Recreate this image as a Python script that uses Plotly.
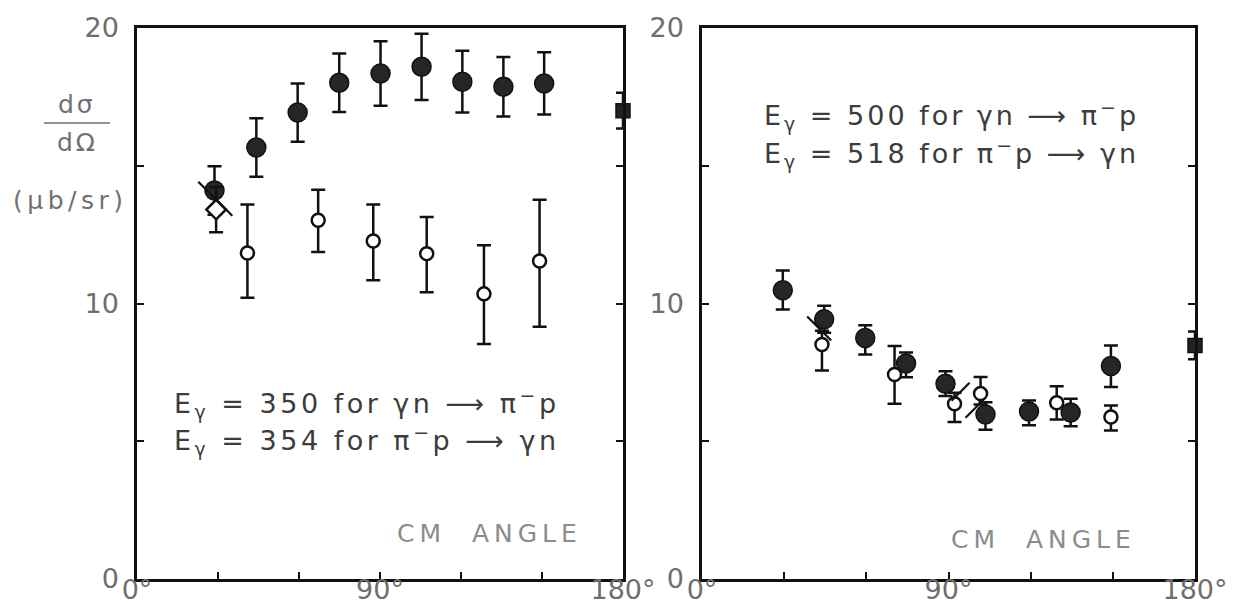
import plotly.graph_objects as go

W, H = 1242, 603

# ---- left panel: E_gamma = 350 (gamma n -> pi- p) and 354 (pi- p -> gamma n) ----
l_gn_ang = [28.7, 44.2, 59.5, 74.9, 90.2, 105.4, 120.5, 135.7, 150.8]
l_gn_val = [14.1, 15.66, 16.93, 18.01, 18.35, 18.59, 18.05, 17.87, 17.99]
l_gn_err = [0.88, 1.06, 1.06, 1.06, 1.17, 1.2, 1.12, 1.08, 1.13]

l_pg_ang = [40.9, 67.1, 87.5, 107.3, 128.5, 149.1]
l_pg_val = [11.83, 13.02, 12.27, 11.81, 10.35, 11.54]
l_pg_errp = [1.76, 1.11, 1.32, 1.33, 1.76, 2.23]
l_pg_errm = [1.62, 1.15, 1.43, 1.40, 1.82, 2.38]

l_dia_ang = [29.3]
l_dia_val = [13.41]
l_dia_err = [0.82]

l_sq_ang = [180.0]
l_sq_val = [17.0]
l_sq_err = [0.65]

l_diag_ang = [29.0]
l_diag_val = [13.8]

# ---- right panel: E_gamma = 500 (gamma n -> pi- p) and 518 (pi- p -> gamma n) ----
r_gn_ang = [29.5, 44.6, 59.6, 74.5, 88.9, 103.5, 119.4, 134.6, 149.3]
r_gn_val = [10.48, 9.43, 8.75, 7.82, 7.09, 5.97, 6.08, 6.04, 7.73]
r_gn_errp = [0.72, 0.49, 0.46, 0.40, 0.45, 0.45, 0.40, 0.50, 0.75]
r_gn_errm = [0.70, 0.49, 0.60, 0.50, 0.45, 0.55, 0.50, 0.50, 0.76]

r_pg_ang = [43.8, 70.3, 92.2, 101.7, 129.5, 149.3]
r_pg_val = [8.51, 7.42, 6.36, 6.73, 6.40, 5.88]
r_pg_errp = [0.50, 1.04, 0.40, 0.60, 0.60, 0.42]
r_pg_errm = [0.94, 1.06, 0.66, 0.40, 0.61, 0.49]

r_sq_ang = [180.0]
r_sq_val = [8.48]
r_sq_err = [0.5]

r_diag_ang_nw = [42.8]
r_diag_val_nw = [9.09]
r_diag_ang_ne = [94.4, 99.5]
r_diag_val_ne = [6.8, 6.18]

x_tickvals = [0, 90, 180]
x_ticktext = ["0°", "90°", "180°"]
y_tickvals = [0, 10, 20]
y_ticktext = ["0", "10", "20"]


def fx(p):
    return p / W


def fy(p):
    return 1 - p / H


INK = "#111111"
BAR = dict(type="data", color=INK, thickness=2.5, width=7)


def err(plus, minus=None):
    d = dict(BAR, array=plus, visible=True)
    if minus is not None:
        d["arrayminus"] = minus
        d["symmetric"] = False
    return d


filled = dict(symbol="circle", size=19, color="#262626", line=dict(color=INK, width=1.5))
hollow = dict(symbol="circle", size=13, color="white", line=dict(color=INK, width=2.5))
diamond = dict(symbol="diamond", size=15, color="white", line=dict(color=INK, width=2.5))
square = dict(symbol="square", size=14, color="#222222", line=dict(color=INK, width=1.5))

fig = go.Figure()

# left panel traces
fig.add_trace(go.Scatter(x=l_gn_ang, y=l_gn_val, mode="markers", marker=filled,
                         error_y=err(l_gn_err), xaxis="x", yaxis="y"))
fig.add_trace(go.Scatter(x=l_pg_ang, y=l_pg_val, mode="markers", marker=hollow,
                         error_y=err(l_pg_errp, l_pg_errm), xaxis="x", yaxis="y"))
fig.add_trace(go.Scatter(x=l_dia_ang, y=l_dia_val, mode="markers", marker=diamond,
                         error_y=err(l_dia_err), xaxis="x", yaxis="y"))
fig.add_trace(go.Scatter(x=l_sq_ang, y=l_sq_val, mode="markers", marker=square,
                         error_y=err(l_sq_err), xaxis="x", yaxis="y", cliponaxis=False))
fig.add_trace(go.Scatter(x=l_diag_ang, y=l_diag_val, mode="markers",
                         marker=dict(symbol="line-nw", size=34, line=dict(color=INK, width=2.2)),
                         xaxis="x", yaxis="y"))

# right panel traces
fig.add_trace(go.Scatter(x=r_gn_ang, y=r_gn_val, mode="markers", marker=filled,
                         error_y=err(r_gn_errp, r_gn_errm), xaxis="x2", yaxis="y2"))
fig.add_trace(go.Scatter(x=r_pg_ang, y=r_pg_val, mode="markers", marker=hollow,
                         error_y=err(r_pg_errp, r_pg_errm), xaxis="x2", yaxis="y2"))
fig.add_trace(go.Scatter(x=r_sq_ang, y=r_sq_val, mode="markers", marker=square,
                         error_y=err(r_sq_err), xaxis="x2", yaxis="y2", cliponaxis=False))
fig.add_trace(go.Scatter(x=r_diag_ang_nw, y=r_diag_val_nw, mode="markers",
                         marker=dict(symbol="line-nw", size=24, line=dict(color=INK, width=2.2)),
                         xaxis="x2", yaxis="y2"))
fig.add_trace(go.Scatter(x=r_diag_ang_ne, y=r_diag_val_ne, mode="markers",
                         marker=dict(symbol="line-ne", size=18, line=dict(color=INK, width=2.2)),
                         xaxis="x2", yaxis="y2"))

TICKFONT = dict(family="DejaVu Sans", size=27, color="#6e6e6e")


def xaxis(domain):
    return dict(domain=domain, range=[0, 180], tickvals=x_tickvals, ticktext=x_ticktext,
                ticks="inside", ticklen=7, tickwidth=1.5, tickcolor=INK,
                minor=dict(dtick=30, tick0=0, ticks="inside", ticklen=7, tickwidth=1.5, tickcolor=INK),
                showline=True, linecolor=INK, linewidth=3, mirror=True,
                showgrid=False, zeroline=False, tickfont=TICKFONT, fixedrange=True,
                ticklabelstandoff=-15, automargin=False)


def yaxis(anchor):
    return dict(domain=[fy(579), fy(28)], range=[0, 20], tickvals=y_tickvals, ticktext=y_ticktext,
                ticks="inside", ticklen=7, tickwidth=1.5, tickcolor=INK,
                minor=dict(dtick=5, tick0=0, ticks="inside", ticklen=7, tickwidth=1.5, tickcolor=INK),
                showline=True, linecolor=INK, linewidth=2.5, mirror="allticks",
                showgrid=False, zeroline=False, tickfont=TICKFONT, anchor=anchor,
                ticklabelstandoff=10, fixedrange=True, automargin=False)


TEXT = dict(family="DejaVu Sans", size=27, color="#3c3c3c")
CM = dict(family="DejaVu Sans", size=25, color="#8c8c8c")
LAB = dict(family="DejaVu Sans", size=25, color="#707070")


def spaced(s, px):
    return f'<span style="letter-spacing:{px}px">{s}</span>'


annotations = [
    dict(text=spaced("E<sub>γ</sub> = 350 for γn ⟶ π<sup>−</sup>p", 3.5), x=fx(172), y=fy(404)),
    dict(text=spaced("E<sub>γ</sub> = 354 for π<sup>−</sup>p ⟶ γn", 3.5), x=fx(172), y=fy(440)),
    dict(text=spaced("E<sub>γ</sub> = 500 for γn ⟶ π<sup>−</sup>p", 3.0), x=fx(762), y=fy(115)),
    dict(text=spaced("E<sub>γ</sub> = 518 for π<sup>−</sup>p ⟶ γn", 3.0), x=fx(762), y=fy(154)),
]
annotations = [dict(a, xref="paper", yref="paper", xanchor="left", yanchor="middle",
                    showarrow=False, font=TEXT) for a in annotations]
annotations += [
    dict(text=spaced("CM  ANGLE", 5), x=fx(489), y=fy(533), font=CM),
    dict(text=spaced("CM  ANGLE", 5), x=fx(1043), y=fy(539), font=CM),
    dict(text=spaced("dσ", 3), x=fx(77), y=fy(105), font=LAB),
    dict(text=spaced("dΩ", 3), x=fx(77), y=fy(142), font=LAB),
    dict(text=spaced("(μb/sr)", 4.5), x=fx(70), y=fy(200), font=LAB),
]
for a in annotations[-5:]:
    a.update(xref="paper", yref="paper", xanchor="center", yanchor="middle", showarrow=False)

fig.update_layout(
    width=W, height=H,
    margin=dict(l=0, r=0, t=0, b=0, autoexpand=False),
    paper_bgcolor="white", plot_bgcolor="white",
    showlegend=False,
    xaxis=xaxis([fx(137), fx(623)]),
    yaxis=yaxis("x"),
    xaxis2=xaxis([fx(702), fx(1195)]),
    yaxis2=yaxis("x2"),
    annotations=annotations,
    shapes=[dict(type="line", xref="paper", yref="paper", x0=fx(44), x1=fx(110),
                 y0=fy(123), y1=fy(123), line=dict(color="#707070", width=1.5))],
)

fig.write_html("out.html", config={"displayModeBar": False})
